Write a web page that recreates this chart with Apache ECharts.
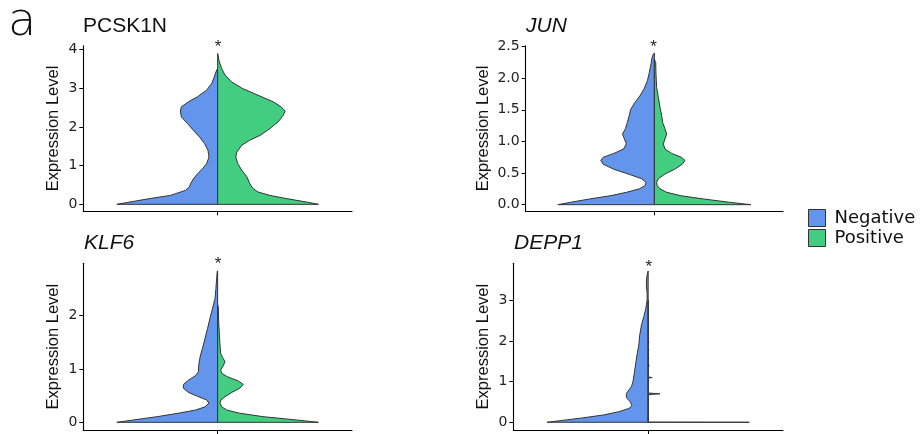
<!DOCTYPE html>
<html>
<head>
<meta charset="utf-8">
<script src="https://cdn.jsdelivr.net/npm/echarts@6/dist/echarts.min.js"></script>
<style>
html, body { margin: 0; padding: 0; background: #fff; }
#chart { width: 920px; height: 434px; }
</style>
</head>
<body>
<div id="chart"></div>
<script>
// split violin profiles: expression level (y) and half width (density scaled so max = 1)
const pcsk1nNegY = [0, 0.06, 0.15, 0.23, 0.36, 0.45, 0.53, 0.66, 0.79, 0.92, 1.05, 1.22, 1.40, 1.57, 1.74, 1.91, 2.09, 2.26, 2.41, 2.52, 2.65, 2.78, 2.95, 3.12, 3.29, 3.47, 3.50];
const pcsk1nNegW = [1.00, 0.87, 0.67, 0.47, 0.32, 0.28, 0.27, 0.24, 0.20, 0.15, 0.11, 0.086, 0.096, 0.13, 0.18, 0.24, 0.30, 0.36, 0.37, 0.36, 0.29, 0.20, 0.11, 0.06, 0.033, 0.01, 0];
const pcsk1nPosY = [0, 0.06, 0.15, 0.23, 0.32, 0.41, 0.53, 0.71, 0.88, 1.05, 1.22, 1.35, 1.53, 1.66, 1.78, 1.96, 2.13, 2.30, 2.41, 2.52, 2.65, 2.82, 2.99, 3.16, 3.34, 3.51, 3.68, 3.90];
const pcsk1nPosW = [1.00, 0.88, 0.68, 0.52, 0.40, 0.35, 0.32, 0.29, 0.24, 0.20, 0.18, 0.19, 0.24, 0.32, 0.42, 0.52, 0.60, 0.65, 0.67, 0.63, 0.55, 0.40, 0.25, 0.14, 0.073, 0.04, 0.017, 0];

const junNegY = [0, 0.037, 0.09, 0.14, 0.195, 0.25, 0.30, 0.35, 0.41, 0.485, 0.56, 0.64, 0.70, 0.75, 0.81, 0.88, 0.96, 1.04, 1.12, 1.20, 1.30, 1.41, 1.51, 1.62, 1.72, 1.83, 1.96, 2.09, 2.23, 2.33, 2.38, 2.40];
const junNegW = [1.00, 0.87, 0.67, 0.46, 0.29, 0.155, 0.097, 0.086, 0.13, 0.27, 0.42, 0.53, 0.555, 0.53, 0.42, 0.32, 0.29, 0.31, 0.33, 0.30, 0.28, 0.26, 0.245, 0.20, 0.15, 0.107, 0.072, 0.052, 0.034, 0.024, 0.01, 0];
const junPosY = [0, 0.037, 0.09, 0.14, 0.195, 0.25, 0.30, 0.35, 0.41, 0.485, 0.56, 0.64, 0.70, 0.75, 0.81, 0.88, 0.96, 1.04, 1.12, 1.20, 1.30, 1.41, 1.54, 1.70, 1.85, 2.06, 2.25, 2.30];
const junPosW = [1.00, 0.78, 0.51, 0.28, 0.128, 0.059, 0.031, 0.024, 0.041, 0.11, 0.21, 0.29, 0.317, 0.28, 0.18, 0.11, 0.093, 0.11, 0.128, 0.11, 0.086, 0.076, 0.059, 0.041, 0.024, 0.017, 0.014, 0];

const klf6NegY = [0, 0.044, 0.106, 0.17, 0.23, 0.29, 0.36, 0.42, 0.48, 0.56, 0.64, 0.71, 0.79, 0.875, 0.95, 1.04, 1.17, 1.26, 1.39, 1.575, 1.76, 1.95, 2.14, 2.32, 2.51, 2.70, 2.825, 2.84];
const klf6NegW = [1.00, 0.835, 0.60, 0.39, 0.22, 0.125, 0.086, 0.11, 0.19, 0.29, 0.34, 0.34, 0.29, 0.22, 0.19, 0.19, 0.18, 0.17, 0.15, 0.125, 0.10, 0.076, 0.05, 0.026, 0.017, 0.01, 0.004, 0];
const klf6PosY = [0, 0.044, 0.106, 0.17, 0.23, 0.29, 0.36, 0.42, 0.48, 0.56, 0.64, 0.71, 0.775, 0.86, 0.92, 0.98, 1.06, 1.14, 1.21, 1.29, 1.45, 1.64, 1.89, 2.14, 2.2];
const klf6PosW = [1.00, 0.78, 0.45, 0.22, 0.09, 0.04, 0.023, 0.033, 0.073, 0.14, 0.22, 0.254, 0.205, 0.09, 0.04, 0.03, 0.056, 0.073, 0.05, 0.03, 0.023, 0.017, 0.01, 0.007, 0];

const depp1NegY = [0, 0.04, 0.10, 0.18, 0.26, 0.34, 0.41, 0.51, 0.61, 0.71, 0.795, 0.88, 1.0, 1.16, 1.41, 1.66, 1.90, 2.15, 2.39, 2.60, 2.76, 2.89, 3.01, 3.17, 3.34, 3.50, 3.62, 3.72];
const depp1NegW = [1.00, 0.87, 0.67, 0.44, 0.29, 0.19, 0.16, 0.18, 0.215, 0.215, 0.19, 0.165, 0.15, 0.14, 0.125, 0.11, 0.092, 0.083, 0.066, 0.043, 0.026, 0.017, 0.01, 0.01, 0.017, 0.017, 0.01, 0];
const depp1PosY = [0, 0.003, 0.68, 0.70, 0.72, 1.085, 1.10, 1.115, 1.38, 1.39, 1.40, 1.57, 1.58, 1.59, 1.77, 1.78, 1.79, 1.96, 1.97, 1.98, 3.0];
const depp1PosW = [1.0, 0, 0, 0.115, 0, 0, 0.04, 0, 0, 0.012, 0, 0, 0.01, 0, 0, 0.01, 0, 0, 0.01, 0, 0];

const genes = ['PCSK1N', 'JUN', 'KLF6', 'DEPP1'];
const yTicks = [[0, 1, 2, 3, 4], [0, 0.5, 1, 1.5, 2, 2.5], [0, 1, 2], [0, 1, 2, 3]];
const yRange = [[-0.18, 4.1], [-0.105, 2.515], [-0.144, 2.98], [-0.19, 3.91]];
const groups = ['Negative', 'Positive'];

const negColor = '#6495ED';
const posColor = '#43CD80';
const gridBox = [
    { left: 83.3, top: 45.7, width: 268.7, height: 165.6 },
    { left: 525.7, top: 45.7, width: 257.3, height: 165.6 },
    { left: 83.3, top: 263.3, width: 268.7, height: 166.7 },
    { left: 513.3, top: 263.3, width: 269.7, height: 166.7 }
];
const nameGaps = [21, 34, 21, 21];

let halves = [
    [pcsk1nNegY, pcsk1nNegW, pcsk1nPosY, pcsk1nPosW],
    [junNegY, junNegW, junPosY, junPosW],
    [klf6NegY, klf6NegW, klf6PosY, klf6PosW],
    [depp1NegY, depp1NegW, depp1PosY, depp1PosW]
];

let violinHalf = (ys, ws, side, color) => {
    return (params, api) => {
        if (params.dataIndex !== 0) return;
        let pts = [api.coord([0, ys[0]])];
        for (let i = 0; i < ys.length; i++) {
            pts.push(api.coord([side * ws[i], ys[i]]));
        }
        pts.push(api.coord([0, ys[ys.length - 1]]));
        return {
            type: 'polygon',
            shape: { points: pts },
            style: { fill: color, stroke: '#333', lineWidth: 1, lineJoin: 'round' }
        };
    };
};

let grids = [], xAxes = [], yAxes = [], series = [];
gridBox.forEach((b, i) => {
    grids.push(Object.assign({ containLabel: false, outerBoundsMode: 'none' }, b));
    xAxes.push({
        type: 'value', gridIndex: i, min: -1.333, max: 1.333,
        splitLine: { show: false },
        axisLine: { show: true, onZero: false, lineStyle: { color: '#000', width: 1.1 } },
        axisTick: { show: true, customValues: [0], length: 4, lineStyle: { color: '#000' } },
        axisLabel: { show: false }
    });
    yAxes.push({
        type: 'value', gridIndex: i, min: yRange[i][0], max: yRange[i][1],
        name: 'Expression Level', nameLocation: 'middle', nameRotate: 90, nameGap: nameGaps[i],
        nameTextStyle: { fontFamily: 'Liberation Sans', fontSize: 16.5, color: '#111' },
        splitLine: { show: false },
        axisLine: { show: true, onZero: false, lineStyle: { color: '#000', width: 1.1 } },
        axisTick: { show: true, customValues: yTicks[i], length: 4, lineStyle: { color: '#000' } },
        axisLabel: {
            customValues: yTicks[i], margin: 6,
            fontFamily: 'DejaVu Sans', fontSize: 14, color: '#222',
            formatter: v => i === 1 ? v.toFixed(1) : String(v)
        }
    });
    let h = halves[i];
    series.push({
        type: 'custom', name: groups[0], xAxisIndex: i, yAxisIndex: i,
        itemStyle: { color: negColor }, data: [[0, 0]],
        renderItem: violinHalf(h[0], h[1], -1, negColor)
    });
    series.push({
        type: 'custom', name: groups[1], xAxisIndex: i, yAxisIndex: i,
        itemStyle: { color: posColor }, data: [[0, 0]],
        renderItem: violinHalf(h[2], h[3], 1, posColor)
    });
});

let titleText = (txt, x, y, italic) => ({
    type: 'text', left: x, top: y,
    style: { text: txt, fontFamily: 'Liberation Sans', fontSize: 21, fontStyle: italic ? 'italic' : 'normal', fill: '#111' }
});
let star = (x, y) => ({
    type: 'text', x: x, y: y,
    style: { text: '*', fontFamily: 'Liberation Sans', fontSize: 17, fill: '#222', align: 'center', verticalAlign: 'middle' }
});

let chart = echarts.init(document.getElementById('chart'));
chart.setOption({
    animation: false,
    backgroundColor: '#fff',
    grid: grids,
    xAxis: xAxes,
    yAxis: yAxes,
    series: series,
    legend: {
        data: groups, orient: 'vertical', left: 808, top: 209,
        icon: 'rect', itemWidth: 17, itemHeight: 17, itemGap: 2, padding: 0,
        itemStyle: { borderColor: '#333', borderWidth: 1 },
        textStyle: { fontFamily: 'DejaVu Sans', fontSize: 18, lineHeight: 17, color: '#111', padding: [0, 0, 0, 4] },
        selectedMode: false
    },
    graphic: [
        { type: 'text', left: 8, top: 0, style: { text: 'a', fontFamily: 'DejaVu Sans', fontWeight: 300, fontSize: 46, fill: '#111' } },
        titleText(genes[0], 83, 16, false),
        titleText(genes[1], 526, 16, true),
        titleText(genes[2], 84, 233, true),
        titleText(genes[3], 514, 233, true),
        star(218, 47.5),
        star(653.5, 47.5),
        star(218, 264.5),
        star(648.7, 267)
    ]
});
</script>
</body>
</html>
